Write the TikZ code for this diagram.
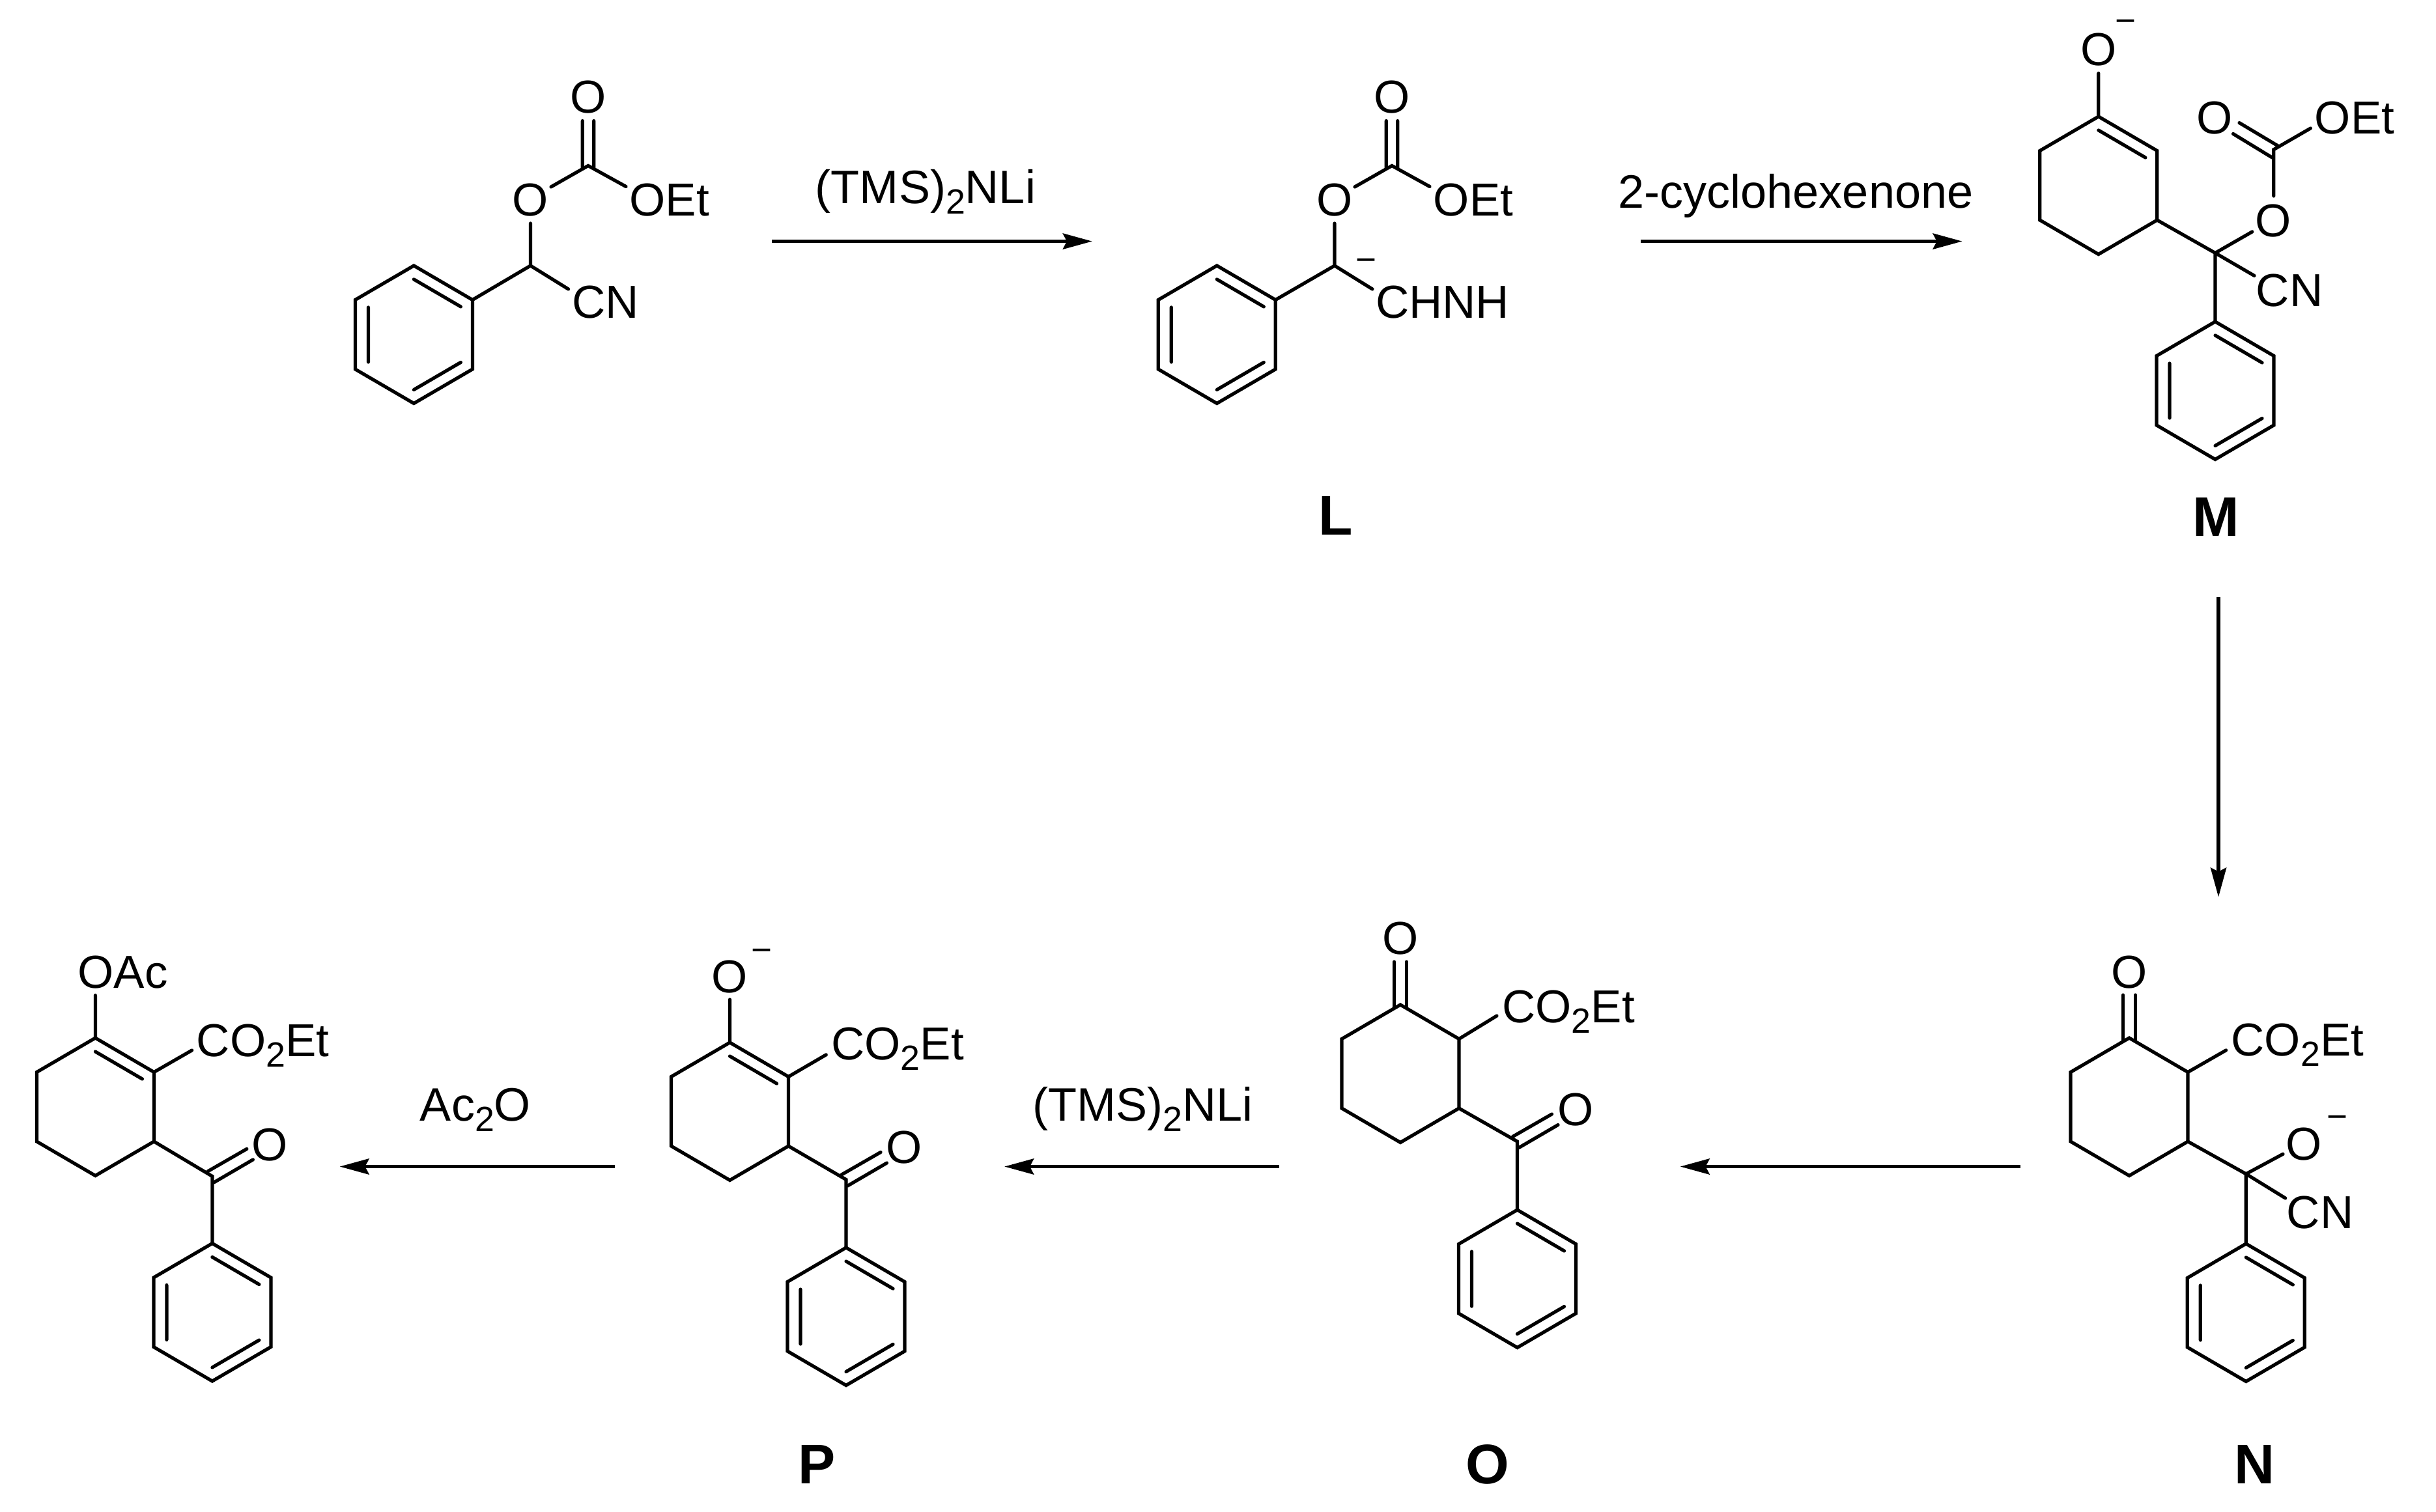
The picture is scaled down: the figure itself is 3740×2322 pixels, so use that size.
\documentclass[tikz,border=0pt]{standalone}
\usepackage{fontspec}
\setmainfont{Liberation Sans}
\usetikzlibrary{arrows.meta}
\tikzset{
  bond/.style={line width=0.52mm,line cap=round,line join=miter,black},
  rxn/.style={line width=0.58mm,black,-{Stealth[length=4.5mm,width=2.4mm,inset=0.6mm]}},
  atom/.style={inner sep=0pt,outer sep=0pt,anchor=base,text=black,font=\fontsize{20.2}{24}\selectfont},
  lab/.style={inner sep=0pt,outer sep=0pt,anchor=base,text=black,font=\fontsize{20.5}{24}\selectfont},
  tag/.style={inner sep=0pt,outer sep=0pt,anchor=base,text=black,font=\fontsize{24.4}{28}\selectfont\bfseries},
  chg/.style={inner sep=0pt,outer sep=0pt,anchor=base,text=black,font=\fontsize{15.6}{18}\selectfont}
}
\newcommand{\subtwo}{\raisebox{-4.55pt}{\fontsize{15.3}{15}\selectfont 2}}
\newcommand{\ringat}[3]{%
  \begin{scope}[shift={(#2,#3)}]
    \coordinate (#1t) at (0,0);
    \coordinate (#1ur) at (90,52.5);
    \coordinate (#1lr) at (90,159);
    \coordinate (#1b) at (0,211.5);
    \coordinate (#1ll) at (-90,159);
    \coordinate (#1ul) at (-90,52.5);
  \end{scope}
  \draw[bond] (#1t)--(#1ur)--(#1lr)--(#1b)--(#1ll)--(#1ul)--cycle;}
\newcommand{\benzat}[3]{%
  \ringat{#1}{#2}{#3}
  \begin{scope}[shift={(#2,#3)}]
    \coordinate (#1ia) at (0,21);
    \coordinate (#1ib) at (72,63);
    \coordinate (#1ic) at (-70,64);
    \coordinate (#1id) at (-70,148);
    \coordinate (#1ie) at (0,190.5);
    \coordinate (#1if) at (72,148.5);
  \end{scope}
  \draw[bond] (#1ia)--(#1ib) (#1ic)--(#1id) (#1ie)--(#1if);}
% inner line of the C=C in a cyclohexene ring, from top to upper right
\newcommand{\enol}[3]{%
  \begin{scope}[shift={(#2,#3)}]
    \coordinate (#1ia) at (0,21);
    \coordinate (#1ib) at (72,63);
  \end{scope}
  \draw[bond] (#1ia)--(#1ib);}
% ring C=O pointing up at top atom
\newcommand{\upketo}[3]{%
  \begin{scope}[shift={(#2,#3)}]
    \coordinate (#1ka) at (-9.4,5);
    \coordinate (#1kb) at (-9.4,-66);
    \coordinate (#1kc) at (9.4,5);
    \coordinate (#1kd) at (9.4,-66);
  \end{scope}
  \draw[bond] (#1ka)--(#1kb) (#1kc)--(#1kd);}
% aryl ketone C=O pointing to upper right
\newcommand{\arketo}[3]{%
  \begin{scope}[shift={(#2,#3)}]
    \coordinate (#1ka) at (-7,-7.5);
    \coordinate (#1kb) at (53,-42);
    \coordinate (#1kc) at (2.5,9.5);
    \coordinate (#1kd) at (62.5,-25.5);
  \end{scope}
  \draw[bond] (#1ka)--(#1kb) (#1kc)--(#1kd);}
\begin{document}
\begin{tikzpicture}[x=0.1mm,y=-0.1mm]
\useasboundingbox (0,0) rectangle (3740,2322);
\fill[white] (0,0) rectangle (3740,2322);

% ===== starting material =====
\benzat{a}{635.4}{408}
\coordinate (aCH) at (814.5,408);
\coordinate (aCO) at (903,254.5);
\coordinate (aOe) at (814.5,343);
\coordinate (aOf) at (846,287);
\coordinate (aEa) at (961,286.5);
\coordinate (aCN) at (872.6,444);
\coordinate (aDa) at (894.3,258);
\coordinate (aDb) at (894.3,185.6);
\coordinate (aDc) at (911.7,258);
\coordinate (aDd) at (911.7,185.6);
\draw[bond] (aur)--(aCH)--(aOe) (aCH)--(aCN) (aOf)--(aCO)--(aEa) (aDa)--(aDb) (aDc)--(aDd);
\node[atom] (aO1) at (903,174) {O};
\node[atom] (aO2) at (814.5,332) {O};
\node[atom] (aOEt) at (1027.8,332) {OEt};
\node[atom] (aCNt) at (929.3,489) {CN};

% ===== L =====
\benzat{l}{1868.3}{408}
\coordinate (lCH) at (2049,408);
\coordinate (lCO) at (2137,254.5);
\coordinate (lOe) at (2049,343);
\coordinate (lOf) at (2080,287);
\coordinate (lEa) at (2195,286.5);
\coordinate (lCN) at (2107,444);
\coordinate (lDa) at (2128.3,258);
\coordinate (lDb) at (2128.3,185.6);
\coordinate (lDc) at (2145.7,258);
\coordinate (lDd) at (2145.7,185.6);
\draw[bond] (lur)--(lCH)--(lOe) (lCH)--(lCN) (lOf)--(lCO)--(lEa) (lDa)--(lDb) (lDc)--(lDd);
\node[atom] (lO1) at (2137,174) {O};
\node[atom] (lO2) at (2049,332) {O};
\node[atom] (lOEt) at (2262,332) {OEt};
\node[atom] (lCHNH) at (2214.7,489) {CHNH};
\node[chg] (lminus) at (2097,418) {−};
\node[tag] (lL) at (2051,821) {L};

% ===== M =====
\ringat{m}{3221.8}{179}
\enol{m}{3221.8}{179}
\benzat{n}{3401}{494}
\coordinate (mQ) at (3401,388.5);
\coordinate (mOb) at (3221.8,112.6);
\coordinate (mOe) at (3457.8,355.9);
\coordinate (mCN) at (3461,423.4);
\coordinate (mCO) at (3490.8,229.7);
\coordinate (mOf) at (3490.8,301);
\coordinate (mEa) at (3547.4,197);
\coordinate (mDa) at (3499,225);
\coordinate (mDb) at (3438,188.6);
\coordinate (mDc) at (3488.4,242);
\coordinate (mDd) at (3428.5,205.5);
\draw[bond] (mt)--(mOb) (mlr)--(mQ)--(nt) (mQ)--(mOe) (mQ)--(mCN) (mOf)--(mCO)--(mEa) (mDa)--(mDb) (mDc)--(mDd);
\node[atom] (mO1) at (3221.8,100.5) {O};
\node[chg] (mminus) at (3263,51) {−};
\node[atom] (mO2) at (3400,206) {O};
\node[atom] (mOEt) at (3615,206) {OEt};
\node[atom] (mO3) at (3490,364) {O};
\node[atom] (mCNt) at (3515,470) {CN};
\node[tag] (mL) at (3402,823) {M};

% ===== N =====
\ringat{p}{3269}{1594}
\upketo{p}{3269}{1594}
\benzat{q}{3448.3}{1910}
\coordinate (pQ) at (3448.3,1802.8);
\coordinate (pEa) at (3417.6,1612.9);
\coordinate (pOe) at (3505,1772.3);
\coordinate (pCN) at (3508.7,1840);
\draw[bond] (pur)--(pEa) (plr)--(pQ)--(qt) (pQ)--(pOe) (pQ)--(pCN);
\node[atom] (pO1) at (3269,1517) {O};
\node[atom] (pEst) at (3527.3,1621.5) {CO\subtwo Et};
\node[atom] (pO2) at (3537,1781) {O};
\node[chg] (pminus) at (3588.5,1733) {−};
\node[atom] (pCNt) at (3562,1886.3) {CN};
\node[tag] (pL) at (3461.5,2278) {N};

% ===== O =====
\ringat{r}{2150}{1543}
\upketo{r}{2150}{1543}
\benzat{s}{2329.5}{1858}
\coordinate (rK) at (2329.5,1753);
\coordinate (rEa) at (2298,1560);
\arketo{r}{2329.5}{1753}
\draw[bond] (rur)--(rEa) (rlr)--(rK)--(st);
\node[atom] (rO1) at (2150,1465) {O};
\node[atom] (rEst) at (2408,1570) {CO\subtwo Et};
\node[atom] (rO2) at (2418.8,1728) {O};
\node[tag] (rL) at (2283.5,2278) {O};

% ===== P =====
\ringat{t}{1120.5}{1601}
\enol{t}{1120.5}{1601}
\benzat{u}{1299}{1916}
\coordinate (tK) at (1299,1811.5);
\coordinate (tEa) at (1268.3,1619.8);
\coordinate (tOb) at (1120.5,1535);
\arketo{t}{1299}{1811.5}
\draw[bond] (tt)--(tOb) (tur)--(tEa) (tlr)--(tK)--(ut);
\node[atom] (tO1) at (1120.5,1524) {O};
\node[chg] (tminus) at (1169.5,1477) {−};
\node[atom] (tEst) at (1378,1627) {CO\subtwo Et};
\node[atom] (tO2) at (1388.4,1786) {O};
\node[tag] (tL) at (1254.5,2278) {P};

% ===== enol acetate =====
\ringat{v}{146.4}{1594}
\enol{v}{146.4}{1594}
\benzat{w}{325.9}{1909.5}
\coordinate (vK) at (325.9,1806.4);
\coordinate (vEa) at (294.6,1613);
\coordinate (vOb) at (146.4,1528.5);
\arketo{v}{325.9}{1806.4}
\draw[bond] (vt)--(vOb) (vur)--(vEa) (vlr)--(vK)--(wt);
\node[atom] (vOAc) at (188.5,1517) {OAc};
\node[atom] (vEst) at (403.6,1622) {CO\subtwo Et};
\node[atom] (vO2) at (414.3,1782) {O};

% ===== reaction arrows =====
\coordinate (x1a) at (1185,370.6);
\coordinate (x1b) at (1677,370.6);
\coordinate (x2a) at (2518.7,370.6);
\coordinate (x2b) at (3012.7,370.6);
\coordinate (x3a) at (3406,916.7);
\coordinate (x3b) at (3406,1377.7);
\coordinate (x4a) at (3102,1791.5);
\coordinate (x4b) at (2579.5,1791.5);
\coordinate (x5a) at (1964,1791.5);
\coordinate (x5b) at (1542,1791.5);
\coordinate (x6a) at (943.7,1791.5);
\coordinate (x6b) at (521.4,1791.5);
\draw[rxn] (x1a)--(x1b);
\draw[rxn] (x2a)--(x2b);
\draw[rxn] (x3a)--(x3b);
\draw[rxn] (x4a)--(x4b);
\draw[rxn] (x5a)--(x5b);
\draw[rxn] (x6a)--(x6b);
\node[lab] (r1) at (1421,313) {(TMS)\subtwo NLi};
\node[lab] (r2) at (2757,320) {2-cyclohexenone};
\node[lab] (r3) at (1754.5,1721.7) {(TMS)\subtwo NLi};
\node[lab] (r4) at (730,1721.7) {Ac\subtwo O};
\end{tikzpicture}
\end{document}
